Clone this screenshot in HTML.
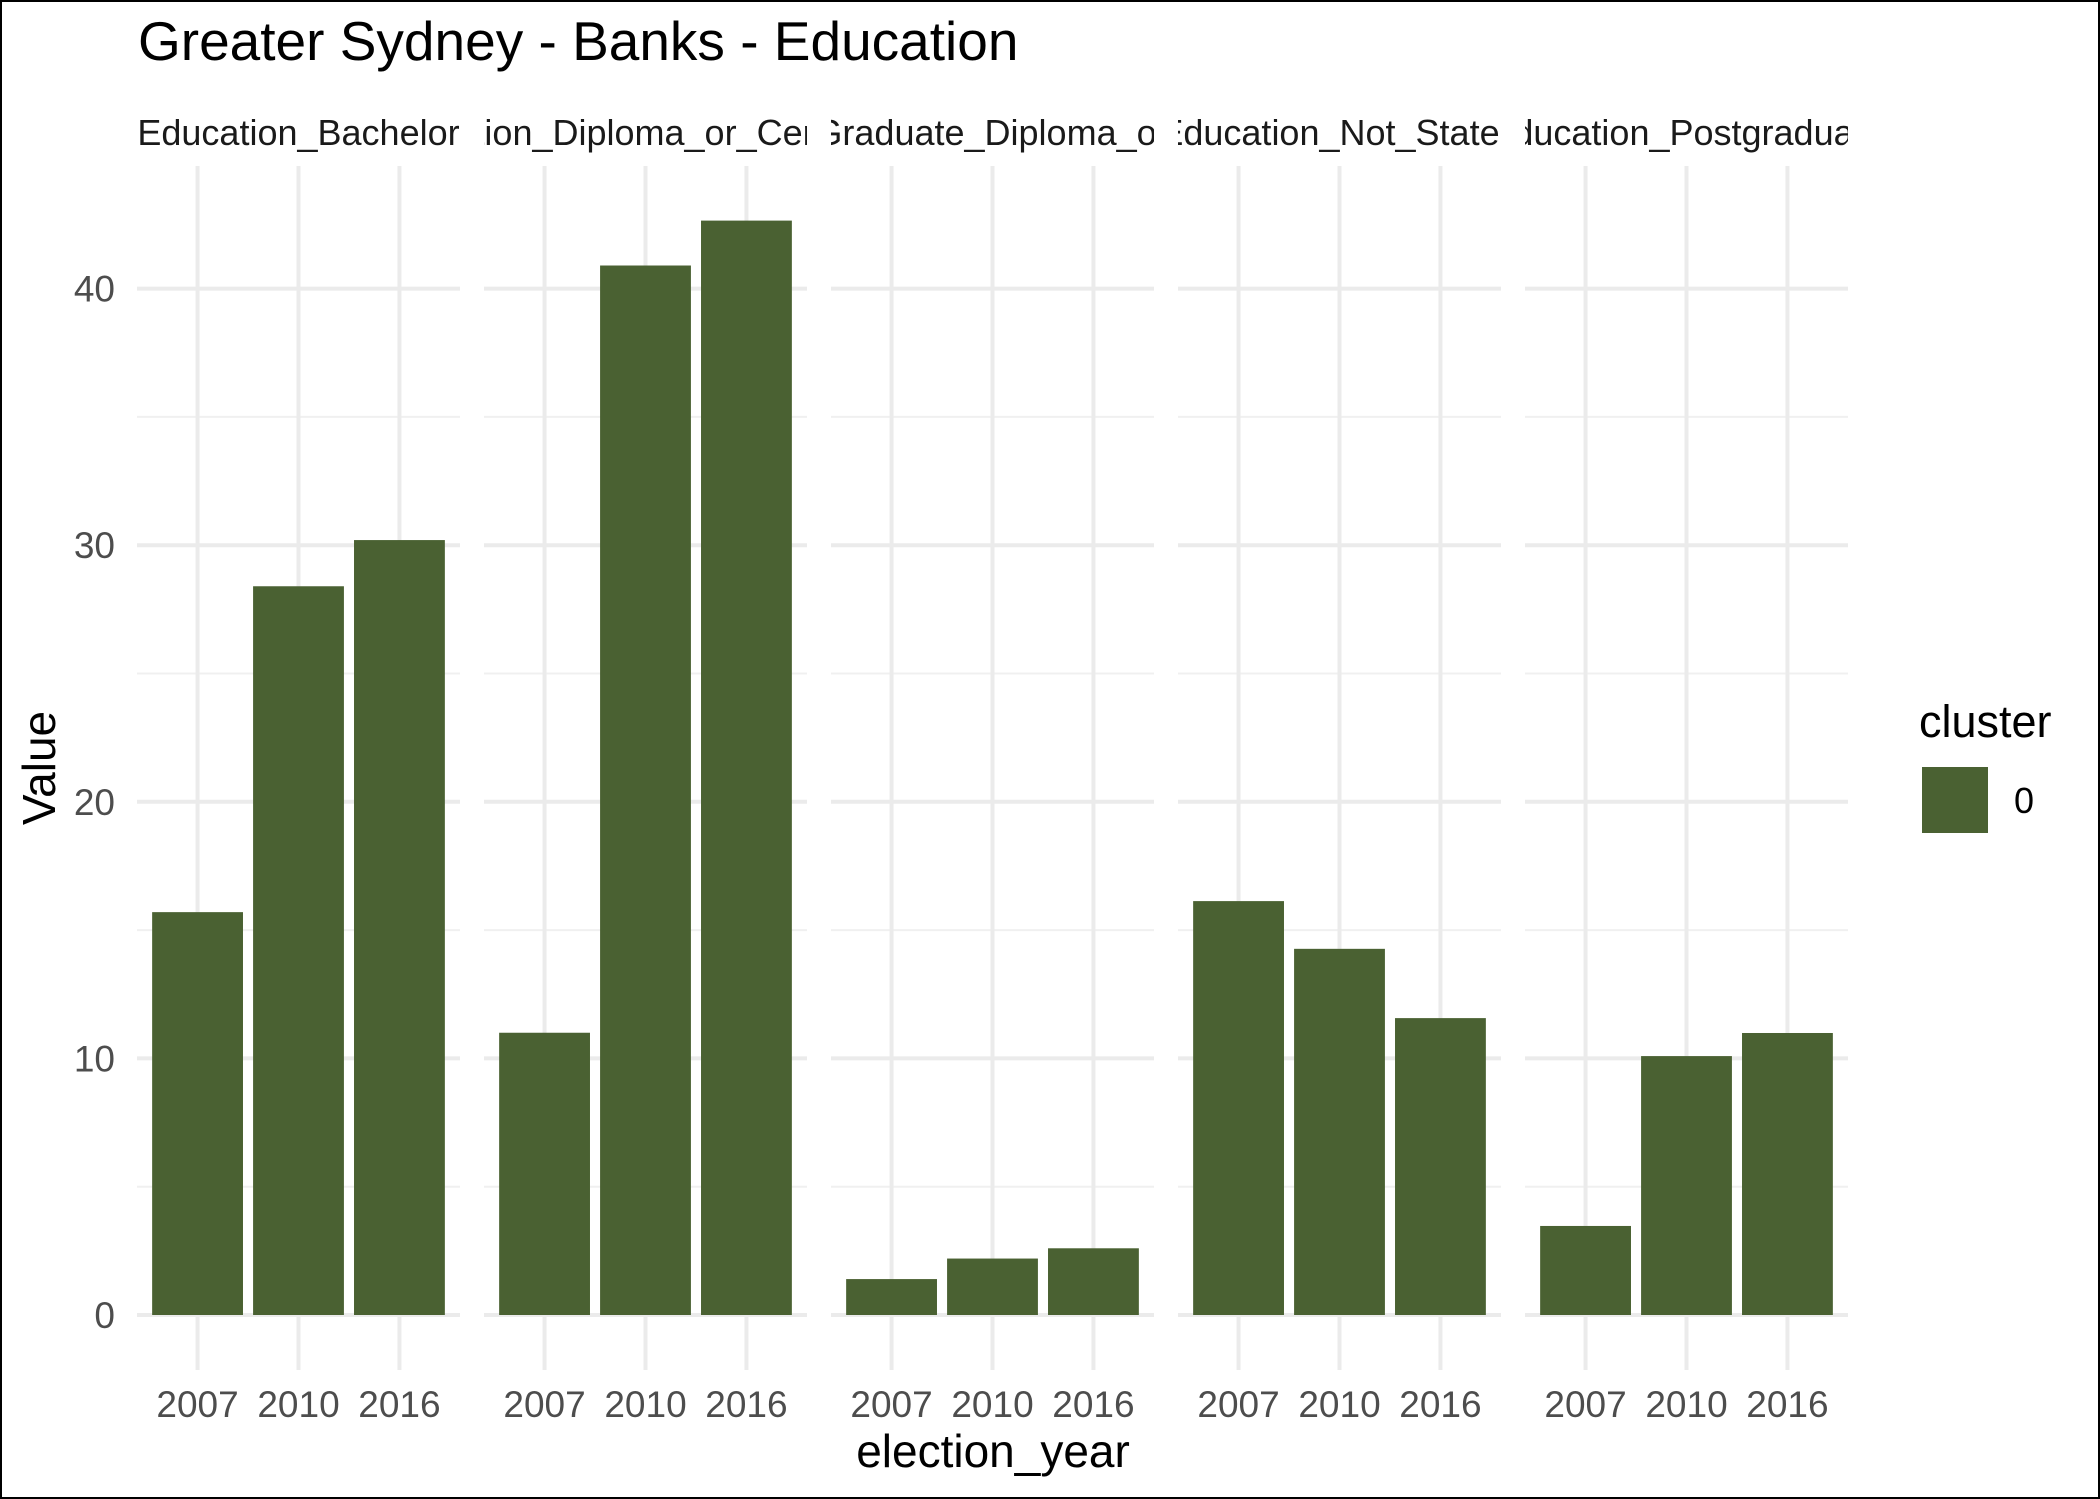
<!DOCTYPE html>
<html><head><meta charset="utf-8"><style>
html,body{margin:0;padding:0;background:#fff}
svg{display:block}
text{font-family:"Liberation Sans",Arial,sans-serif}
</style></head><body>
<svg id="chart" width="2100" height="1499" viewBox="0 0 2100 1499" xmlns="http://www.w3.org/2000/svg">
<rect x="1" y="1" width="2098" height="1497" fill="#fff" stroke="#000" stroke-width="2"/>
<text x="138" y="60" font-size="55" fill="#000">Greater Sydney - Banks - Education</text>
<g id="plot"></g>
<text x="993" y="1467" font-size="46" text-anchor="middle" fill="#000">election_year</text>
<text transform="translate(55,768) rotate(-90)" font-size="46" text-anchor="middle" fill="#000">Value</text>
<g>
<text x="1919" y="737" font-size="45" fill="#000">cluster</text>
<rect x="1922" y="767" width="66" height="66" fill="#4a6132"/>
<text x="2014" y="813" font-size="36" fill="#000">0</text>
</g>
</svg>
<script>
const panels = ["Education_Bachelor","Education_Diploma_or_Certificate","Education_Graduate_Diploma_or_Certificate","Education_Not_Stated","Education_Postgraduate"];
const years = ["2007","2010","2016"];
const bachelor = [15.7, 28.4, 30.2];
const diploma = [11.0, 40.9, 42.65];
const graduate = [1.4, 2.2, 2.6];
const notStated = [16.13, 14.27, 11.57];
const postgrad = [3.47, 10.09, 10.99];
const series = [bachelor, diploma, graduate, notStated, postgrad];
const yTicks = [0, 10, 20, 30, 40];
const yMinor = [5, 15, 25, 35];

const NS = "http://www.w3.org/2000/svg";
const g = document.getElementById('plot');
const panelTop = 166, panelBot = 1370, panelW = 323, panelStep = 347, panelX0 = 137;
const y0px = 1315, pxPerUnit = 25.66;
const yScale = v => y0px - v * pxPerUnit;
const unit = panelW / (years.length + 0.2);
const xScale = (p, i) => panelX0 + p * panelStep + unit * (0.6 + i);
function mk(tag, attrs) { const e = document.createElementNS(NS, tag); for (const k in attrs) e.setAttribute(k, attrs[k]); g.appendChild(e); return e; }

const defs = mk('defs', {});
panels.forEach((name, p) => {
  const px = panelX0 + p * panelStep;
  const cp = document.createElementNS(NS, 'clipPath');
  cp.setAttribute('id', 'clip' + p);
  const cr = document.createElementNS(NS, 'rect');
  cr.setAttribute('x', px); cr.setAttribute('y', 90); cr.setAttribute('width', panelW); cr.setAttribute('height', 70);
  cp.appendChild(cr); defs.appendChild(cp);

  yMinor.forEach(v => {
    const l = mk('line', {x1: px, x2: px + panelW, y1: yScale(v), y2: yScale(v), stroke: '#f0f0f0', 'stroke-width': 2});
    
    
  });
  yTicks.forEach(v => {
    const l = mk('line', {x1: px, x2: px + panelW, y1: yScale(v), y2: yScale(v), stroke: '#ebebeb', 'stroke-width': 4});
    
    
  });
  years.forEach((yr, i) => {
    const cx = xScale(p, i);
    const l = mk('line', {x1: cx, x2: cx, y1: panelTop, y2: panelBot, stroke: '#ebebeb', 'stroke-width': 4});
    
    
  });
  series[p].forEach((v, i) => {
    const cx = xScale(p, i), bw = unit * 0.9;
    const r = mk('rect', {x: cx - bw / 2, y: yScale(v), width: bw, height: y0px - yScale(v), fill: '#4a6132'});
    
    
  });
  years.forEach((yr, i) => {
    const t = mk('text', {x: xScale(p, i), y: 1417, 'font-size': 37, 'text-anchor': 'middle', fill: '#4d4d4d'});
    t.textContent = yr;
    
    
  });
  const st = mk('text', {x: px + panelW / 2, y: 145, 'font-size': 36, 'text-anchor': 'middle', fill: '#1a1a1a', 'clip-path': 'url(#clip' + p + ')'});
  st.textContent = name;
  
  
});
yTicks.forEach(v => {
  const t = mk('text', {x: 115, y: yScale(v) + 13, 'font-size': 37, 'text-anchor': 'end', fill: '#4d4d4d'});
  t.textContent = v;
  
  
});
</script>
</body></html>
